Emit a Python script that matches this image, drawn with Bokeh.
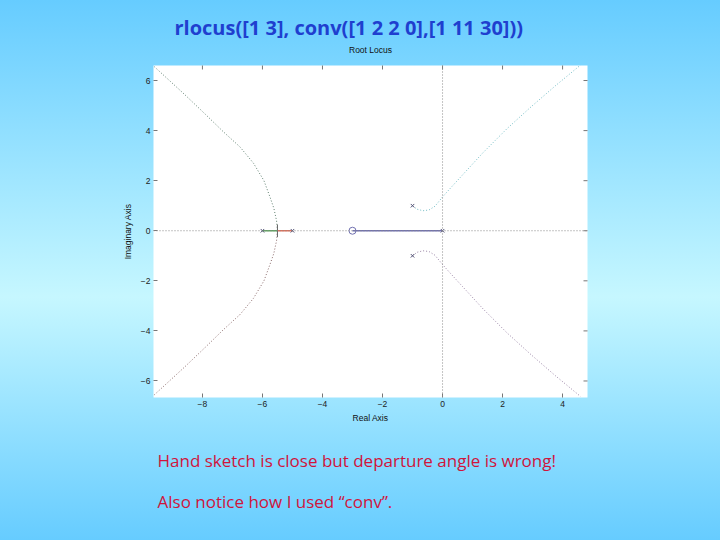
import math
from bokeh.plotting import figure
from bokeh.models import Range1d, FixedTicker, LinearAxis, Title, Span
from bokeh.embed import file_html
from bokeh.resources import INLINE

# ---- data ----
pole_re = [0, -1, -1, -5, -6]
pole_im = [0, 1, -1, 0, 0]
zero_re = [-3]
zero_im = [0]

# real-axis segments
seg_green_x = [-6.0, -5.5]
seg_red_x = [-5.0, -5.5]
seg_blue_x = [0.0, -3.0]

# complex branches leaving the breakaway point near -5.5
ul_x = [-5.5, -5.53, -5.62, -5.75, -5.95, -6.3, -6.75, -7.3, -7.9, -8.6, -9.6]
ul_y = [0.0, 0.4, 0.9, 1.35, 2.0, 2.7, 3.35, 3.95, 4.65, 5.45, 6.55]
ll_x = [-5.5, -5.53, -5.62, -5.75, -5.95, -6.3, -6.75, -7.3, -7.9, -8.6, -9.6]
ll_y = [0.0, -0.4, -0.9, -1.35, -2.0, -2.7, -3.35, -3.95, -4.65, -5.45, -6.55]

# branches from the complex poles -1 +/- j
ur_x = [-1.0, -0.85, -0.65, -0.45, -0.25, 0.0, 0.3, 0.66, 1.35, 2.15, 2.95, 3.77, 4.6]
ur_y = [1.0, 0.86, 0.8, 0.83, 0.98, 1.35, 1.75, 2.22, 3.12, 4.08, 4.95, 5.8, 6.62]
lr_x = [-1.0, -0.85, -0.65, -0.45, -0.25, 0.0, 0.3, 0.66, 1.35, 2.15, 2.95, 3.77, 4.6]
lr_y = [-1.0, -0.86, -0.8, -0.83, -0.98, -1.35, -1.75, -2.22, -3.12, -4.08, -4.95, -5.8, -6.62]

x_ticks = [-8, -6, -4, -2, 0, 2, 4]
y_ticks = [-6, -4, -2, 0, 2, 4, 6]

title_text = "rlocus([1 3], conv([1 2 2 0],[1 11 30]))"
note1 = "Hand sketch is close but departure angle is wrong!"
note2 = "Also notice how I used \u201cconv\u201d."

X0, X1 = -9.63, 4.83
Y0, Y1 = -6.66, 6.6
W, H = 720, 540

p = figure(width=W, height=H, output_backend="svg", toolbar_location=None,
           x_range=Range1d(X0, X1), y_range=Range1d(Y0, Y1),
           min_border_left=153, min_border_right=133,
           min_border_top=65, min_border_bottom=143,
           border_fill_color=None, background_fill_color="white",
           outline_line_color=None,
           styles={"background": "linear-gradient(180deg, #66ccff 0%, #c6f7ff 55%, #66ccff 100%)"})
p.grid.visible = False

p.xaxis.ticker = FixedTicker(ticks=x_ticks)
p.yaxis.ticker = FixedTicker(ticks=y_ticks)

# top axis only carries the "Root Locus" caption (no ticks, no labels)
top_ax = LinearAxis(ticker=FixedTicker(ticks=[]))
p.add_layout(top_ax, "above")

for ax in list(p.xaxis) + list(p.yaxis):
    ax.axis_line_color = None
    ax.major_tick_in = 4
    ax.major_tick_out = 0
    ax.major_tick_line_color = "#777777"
    ax.minor_tick_line_color = None
    ax.major_label_text_font = "Liberation Sans"
    ax.major_label_text_font_size = "8.5px"
    ax.major_label_text_color = "#222222"
    ax.major_label_standoff = 3
    ax.axis_label_text_font = "Liberation Sans"
    ax.axis_label_text_font_size = "8.5px"
    ax.axis_label_text_font_style = "normal"
    ax.axis_label_text_color = "#111111"

top_ax.major_label_standoff = 0
top_ax.axis_label = "Root Locus"
top_ax.axis_label_standoff = 11
p.below[0].axis_label = "Real Axis"
p.below[0].axis_label_standoff = 3
p.left[0].axis_label = "Imaginary Axis"
p.left[0].axis_label_standoff = 5

# slide title above the plot
p.add_layout(Title(text=title_text, align="left", offset=21, standoff=2,
                   text_font="Open Sans", text_font_style="bold", text_font_size="20px",
                   text_color="#1f3fcf"), "above")

# notes below the plot
p.add_layout(Title(text=note1, align="left", offset=4, standoff=47, vertical_align="top",
                   text_font="Open Sans", text_font_style="normal", text_font_size="17px",
                   text_color="#d0143c"), "below")
p.add_layout(Title(text=note2, align="left", offset=4, standoff=-15, vertical_align="top",
                   text_font="Open Sans", text_font_style="normal", text_font_size="17px",
                   text_color="#d0143c"), "below")

# inward tick marks on the top and right edges of the box
p.scatter(x_ticks, [Y1] * len(x_ticks), marker="dash", size=8, angle=math.pi / 2,
          line_color="#777777", line_width=1)
p.scatter([X1] * len(y_ticks), y_ticks, marker="dash", size=8,
          line_color="#777777", line_width=1)

# dotted axes through the origin
p.add_layout(Span(location=0, dimension="width", line_color="#8a8a8a", line_dash="1 2", line_width=1))
p.add_layout(Span(location=0, dimension="height", line_color="#8a8a8a", line_dash="1 2", line_width=1))

# branches
p.line(ul_x, ul_y, line_color="#5f7f6f", line_width=1, line_dash="1 2")
p.line(ll_x, ll_y, line_color="#8a6a6a", line_width=1, line_dash="1 2")
p.line(ur_x, ur_y, line_color="#72bcc4", line_width=1, line_dash="1 2")
p.line(lr_x, lr_y, line_color="#9a84a6", line_width=1, line_dash="1 2")

p.line(seg_green_x, [0, 0], line_color="#5fa35f", line_width=1.3)
p.line(seg_red_x, [0, 0], line_color="#e0705a", line_width=1.3)
p.line(seg_blue_x, [0, 0], line_color="#7070b0", line_width=1.3)

# breakaway tick
p.segment(x0=[-5.5], y0=[-0.25], x1=[-5.5], y1=[0.25], line_color="#666666", line_width=1)

# poles and zero
p.scatter(pole_re, pole_im, marker="x", size=5, line_color="#555577", line_width=1)
p.scatter(zero_re, zero_im, marker="circle", size=7, fill_color=None, line_color="#7070b0", line_width=1)

open("out.html", "w").write(file_html(p, INLINE))
